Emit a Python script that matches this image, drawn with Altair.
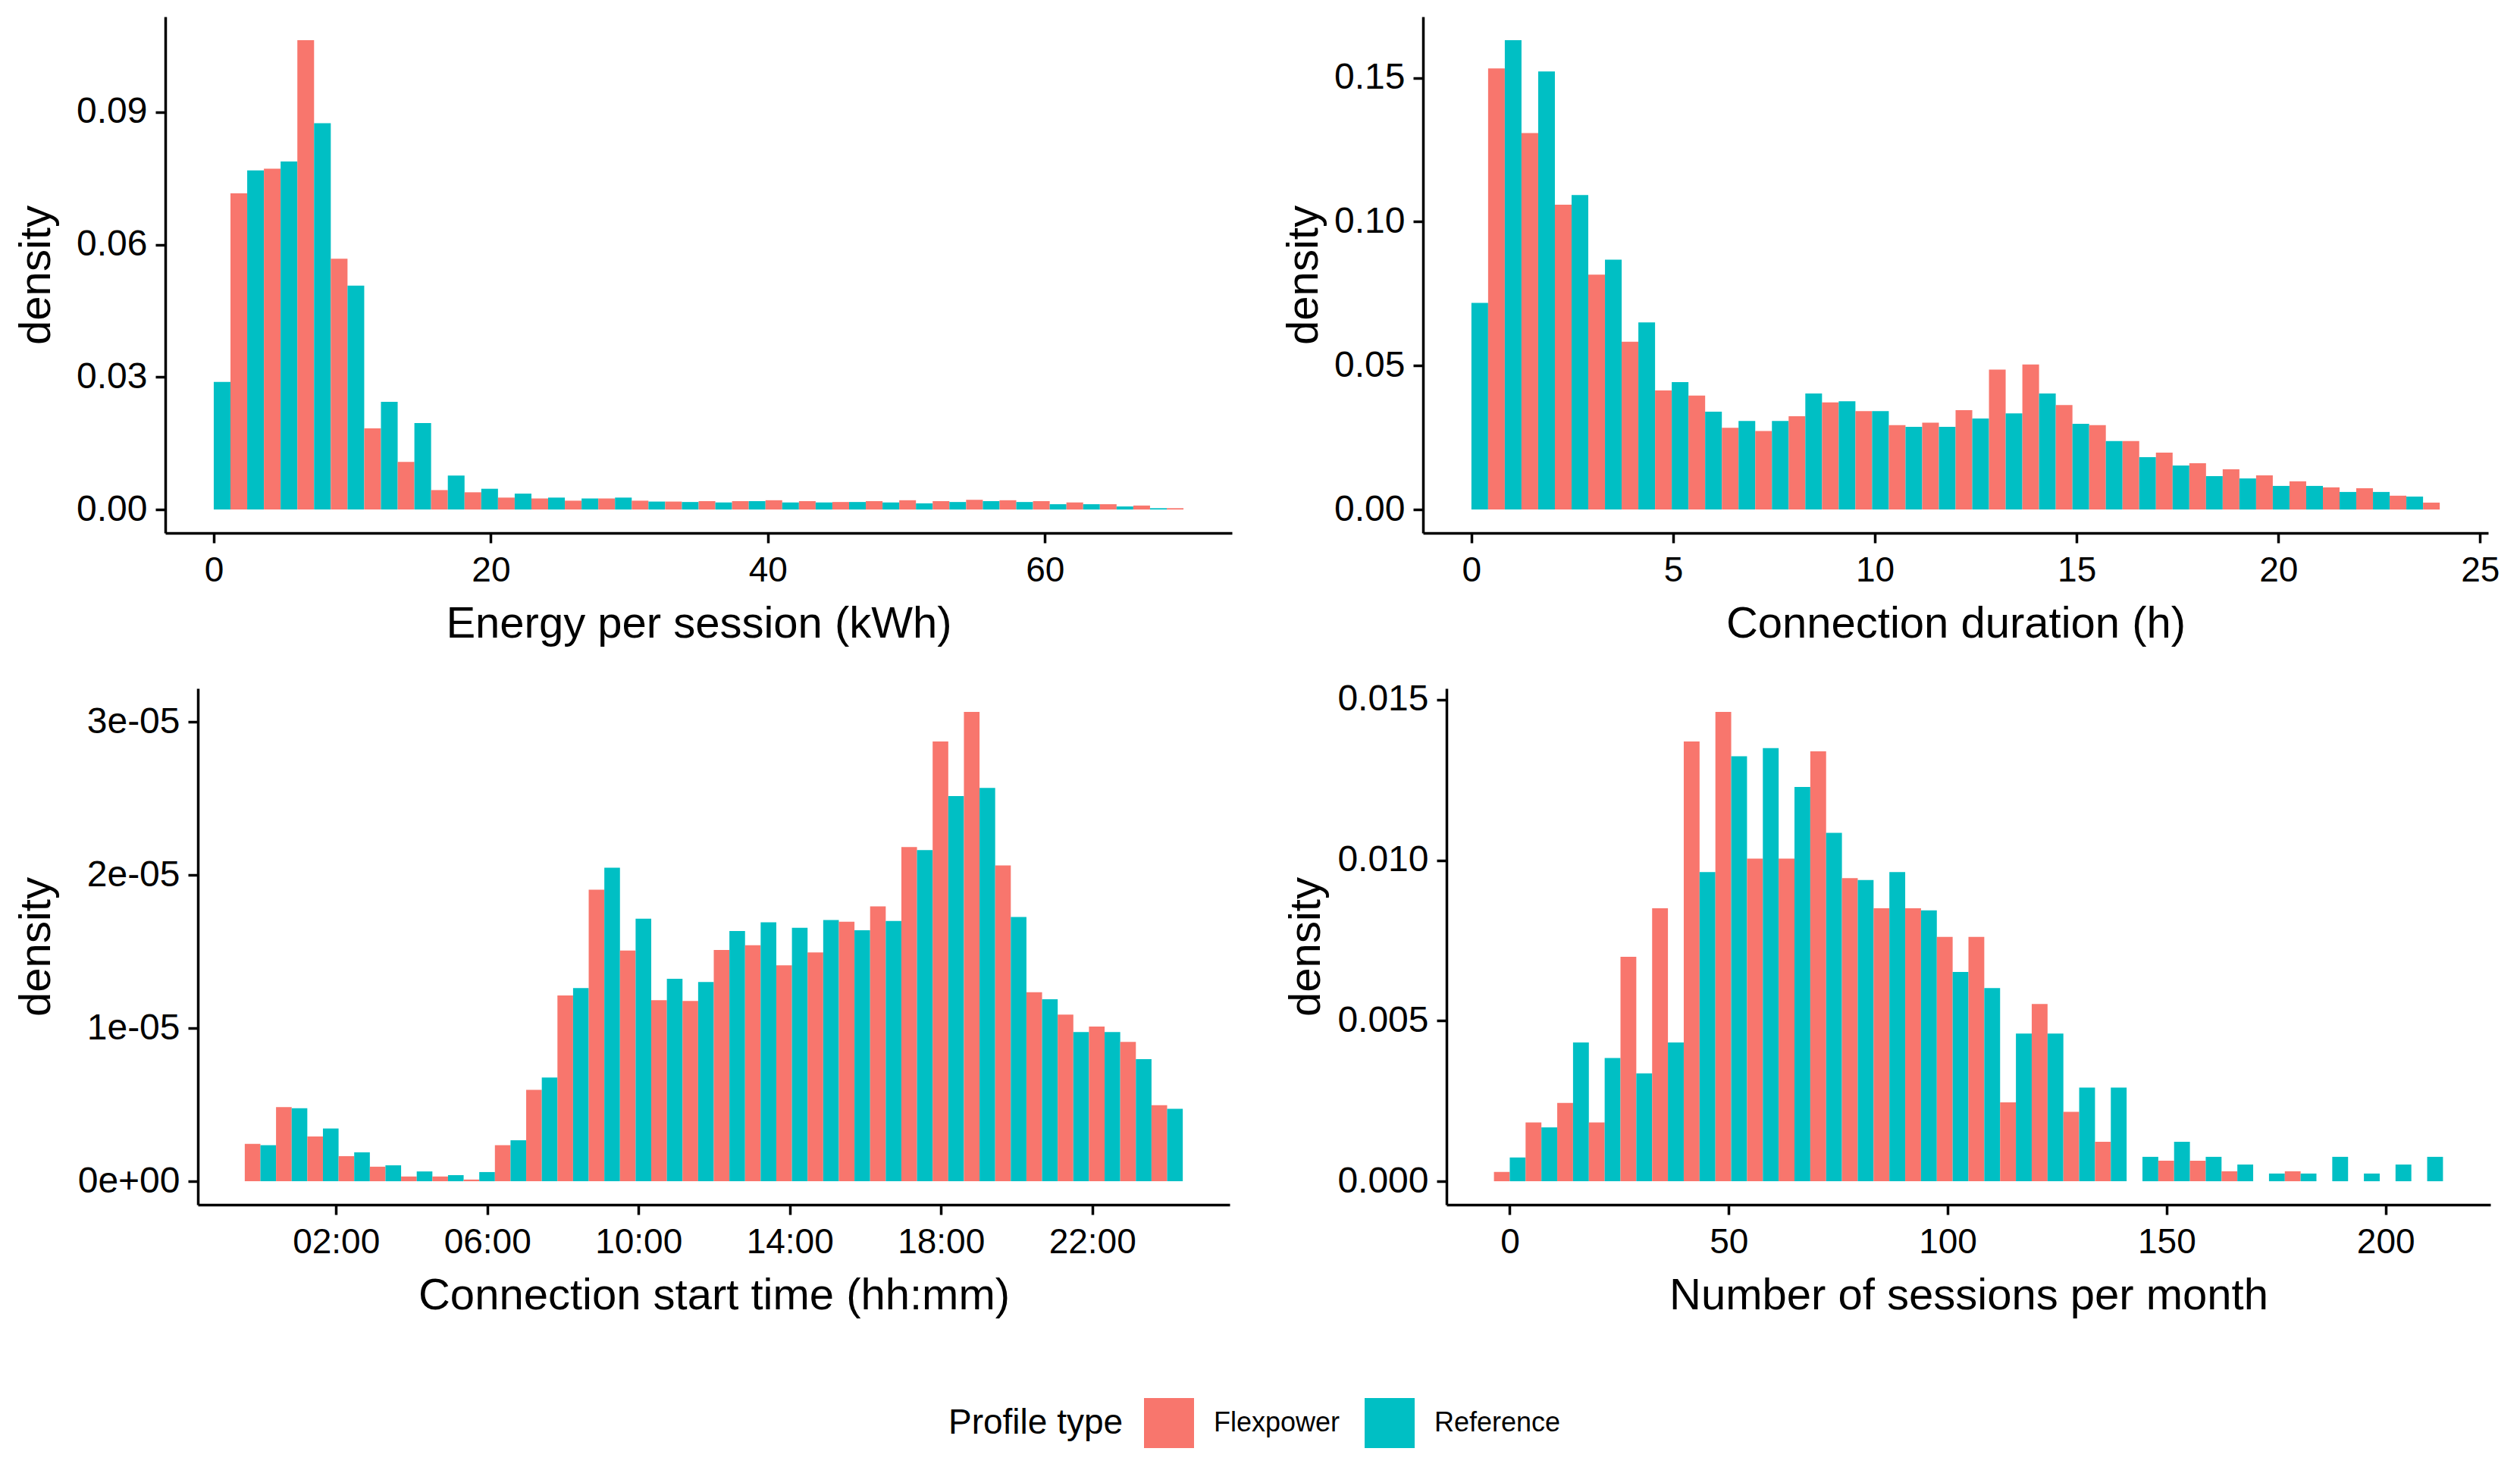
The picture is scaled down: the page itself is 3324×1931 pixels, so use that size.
import altair as alt
import pandas as pd

GROUPS = ["Flexpower", "Reference"]
COLORS = ["#F8766D", "#00BFC4"]
FONT = "Liberation Sans"

# ---- Panel 1: Energy per session (kWh); 30 bins, first centre 0, last centre 70
energy_first, energy_last = 0.0, 70.0
energy_flex = [0.0, 0.0716, 0.0772, 0.1063, 0.0568, 0.0184, 0.0108, 0.0044, 0.0039, 0.0027,
               0.0025, 0.0020, 0.0025, 0.0020, 0.0018, 0.0019, 0.0019, 0.0021, 0.0019, 0.0017,
               0.0019, 0.0021, 0.0019, 0.0022, 0.0021, 0.0019, 0.0016, 0.0012, 0.0009, 0.0003]
energy_ref = [0.0289, 0.0768, 0.0788, 0.0875, 0.0507, 0.0244, 0.0196, 0.0077, 0.0047, 0.0036,
              0.0027, 0.0025, 0.0027, 0.0018, 0.0017, 0.0016, 0.0019, 0.0016, 0.0016, 0.0017,
              0.0016, 0.0014, 0.0017, 0.0019, 0.0017, 0.0012, 0.0012, 0.0007, 0.0003, 0.0]

# ---- Panel 2: Connection duration (h)
dur_first, dur_last = 0.0, 24.0
dur_flex = [0.0, 0.1533, 0.1308, 0.1059, 0.0816, 0.0583, 0.0414, 0.0396, 0.0284, 0.0273,
            0.0324, 0.0372, 0.0342, 0.0293, 0.0302, 0.0345, 0.0486, 0.0504, 0.0363, 0.0293,
            0.0238, 0.0198, 0.0161, 0.0140, 0.0119, 0.0098, 0.0077, 0.0074, 0.0048, 0.0024]
dur_ref = [0.0718, 0.1631, 0.1522, 0.1093, 0.0868, 0.0650, 0.0443, 0.0340, 0.0308, 0.0308,
           0.0403, 0.0376, 0.0342, 0.0287, 0.0287, 0.0316, 0.0334, 0.0403, 0.0298, 0.0238,
           0.0182, 0.0153, 0.0116, 0.0108, 0.0082, 0.0082, 0.0061, 0.0061, 0.0045, 0.0]

# ---- Panel 3: Connection start time (seconds of day); density per second
start_first, start_last = 0.0, 86333.0
start_flex = [0.244e-5, 0.484e-5, 0.293e-5, 0.164e-5, 0.095e-5, 0.031e-5, 0.031e-5, 0.011e-5, 0.235e-5, 0.597e-5,
              1.214e-5, 1.904e-5, 1.507e-5, 1.183e-5, 1.178e-5, 1.511e-5, 1.542e-5, 1.411e-5, 1.495e-5, 1.695e-5,
              1.795e-5, 2.183e-5, 2.873e-5, 3.066e-5, 2.063e-5, 1.234e-5, 1.089e-5, 1.010e-5, 0.910e-5, 0.497e-5]
start_ref = [0.235e-5, 0.477e-5, 0.344e-5, 0.189e-5, 0.104e-5, 0.064e-5, 0.040e-5, 0.060e-5, 0.268e-5, 0.677e-5,
             1.262e-5, 2.048e-5, 1.715e-5, 1.322e-5, 1.302e-5, 1.635e-5, 1.691e-5, 1.655e-5, 1.706e-5, 1.640e-5,
             1.700e-5, 2.163e-5, 2.516e-5, 2.569e-5, 1.726e-5, 1.189e-5, 0.974e-5, 0.974e-5, 0.797e-5, 0.473e-5]

# ---- Panel 4: Number of sessions per month
sess_first, sess_last = 0.0, 209.5
sess_flex = [0.00029, 0.00183, 0.00244, 0.00183, 0.00699, 0.00850, 0.01370, 0.01462, 0.01005, 0.01005,
             0.01339, 0.00944, 0.00850, 0.00850, 0.00761, 0.00761, 0.00246, 0.00552, 0.00216, 0.00123,
             0.0, 0.00064, 0.00064, 0.00031, 0.0, 0.00031, 0.0, 0.0, 0.0, 0.0]
sess_ref = [0.00074, 0.00168, 0.00432, 0.00384, 0.00336, 0.00432, 0.00963, 0.01324, 0.01349, 0.01228,
            0.01085, 0.00938, 0.00963, 0.00844, 0.00652, 0.00602, 0.00460, 0.00460, 0.00292, 0.00292,
            0.00076, 0.00123, 0.00076, 0.00052, 0.00024, 0.00024, 0.00076, 0.00024, 0.00052, 0.00076]

# tick values / labels
energy_ticks = [0, 20, 40, 60]
dur_ticks = [0, 5, 10, 15, 20, 25]
start_ticks = [7200, 21600, 36000, 50400, 64800, 79200]
sess_ticks = [0, 50, 100, 150, 200]
energy_yticks = [0, 0.03, 0.06, 0.09]
dur_yticks = [0, 0.05, 0.10, 0.15]
start_yticks = [0, 1e-5, 2e-5, 3e-5]
sess_yticks = [0, 0.005, 0.010, 0.015]


def make_df(first, last, flex, ref):
    n = len(flex)
    width = (last - first) / (n - 1)
    rows = []
    for i, (f, r) in enumerate(zip(flex, ref)):
        c = first + i * width
        rows.append(dict(group=GROUPS[0], x0=c - width / 2, x1=c, density=f))
        rows.append(dict(group=GROUPS[1], x0=c, x1=c + width / 2, density=r))
    return pd.DataFrame(rows)


def xdomain(df):
    nz = df[df.density > 0]
    lo, hi = nz.x0.min(), nz.x1.max()
    pad = 0.05 * (hi - lo)
    return [lo - pad, hi + pad]


def ydomain(df):
    m = df.density.max()
    return [-0.05 * m, 1.05 * m]


legend = alt.Legend(
    title="Profile type", orient="none", legendX=1033, legendY=1822,
    direction="horizontal", titleOrient="left", symbolType="square",
    symbolSize=4356, symbolStrokeWidth=0, symbolOpacity=1,
    labelFont=FONT, labelFontSize=36, labelColor="black", labelOffset=26, labelLimit=0,
    titleFont=FONT, titleFontSize=46, titleFontWeight="normal", titleColor="black",
    titlePadding=27, columnPadding=32, titleBaseline="middle", titleLimit=0,
)


def panel(df, xtitle, xticks, yticks, width, height, ytitle_x, shift=0,
          yformat=None, ylabelexpr=None, xlabelexpr=None):
    # 'shift' leaves an empty strip left of the plot area inside the cell
    xaxis_kw = dict(values=xticks, title=xtitle, titleY=120, titleBaseline="middle")
    if xlabelexpr:
        xaxis_kw["labelExpr"] = xlabelexpr
    yaxis_kw = dict(values=yticks, title="density", titleX=ytitle_x, titleBaseline="middle",
                    offset=-shift, labelFontSize=48, labelPadding=11)
    if yformat:
        yaxis_kw["format"] = yformat
    if ylabelexpr:
        yaxis_kw["labelExpr"] = ylabelexpr
    xscale = dict(domain=xdomain(df), nice=False, zero=False)
    if shift:
        xscale["range"] = [shift, width + shift]
    return alt.Chart(df).mark_bar(strokeWidth=0, opacity=1).encode(
        x=alt.X("x0:Q", scale=alt.Scale(**xscale), axis=alt.Axis(**xaxis_kw)),
        x2="x1:Q",
        y=alt.Y("density:Q", scale=alt.Scale(domain=ydomain(df), nice=False, zero=False),
                axis=alt.Axis(**yaxis_kw)),
        y2=alt.datum(0),
        color=alt.Color("group:N", scale=alt.Scale(domain=GROUPS, range=COLORS), legend=legend),
    ).properties(width=width + shift, height=height)


df1 = make_df(energy_first, energy_last, energy_flex, energy_ref)
df2 = make_df(dur_first, dur_last, dur_flex, dur_ref)
df3 = make_df(start_first, start_last, start_flex, start_ref)
df4 = make_df(sess_first, sess_last, sess_flex, sess_ref)

p1 = panel(df1, "Energy per session (kWh)", energy_ticks, energy_yticks, 1407, 681, -170, yformat=".2f")
p2 = panel(df2, "Connection duration (h)", dur_ticks, dur_yticks, 1405, 681, -157, yformat=".2f")
p3 = panel(df3, "Connection start time (hh:mm)", start_ticks, start_yticks, 1361, 681, -213, shift=43,
           ylabelexpr="replace(replace(format(datum.value, '.0e'), 'e-', 'e-0'), 'e+', 'e+0')",
           xlabelexpr="utcFormat(datum.value * 1000, '%H:%M')")
p4 = panel(df4, "Number of sessions per month", sess_ticks, sess_yticks, 1377, 681, -185, shift=31,
           yformat=".3f")

chart = alt.concat(p1, p2, p3, p4, columns=2, align="none", bounds="flush",
                   spacing={"row": 205, "column": 252}).properties(
    padding={"left": 11, "top": 14, "right": 5, "bottom": 5}
).configure_axis(
    domainColor="black", domainWidth=3.5, tickColor="black", tickWidth=3.5, tickSize=13,
    labelColor="black", labelFont=FONT, labelFontSize=46, labelPadding=14,
    titleColor="black", titleFont=FONT, titleFontSize=58, titleFontWeight="normal",
    grid=False,
).configure_view(stroke=None)

chart.save("out.html", embed_options={"renderer": "svg", "actions": False})
